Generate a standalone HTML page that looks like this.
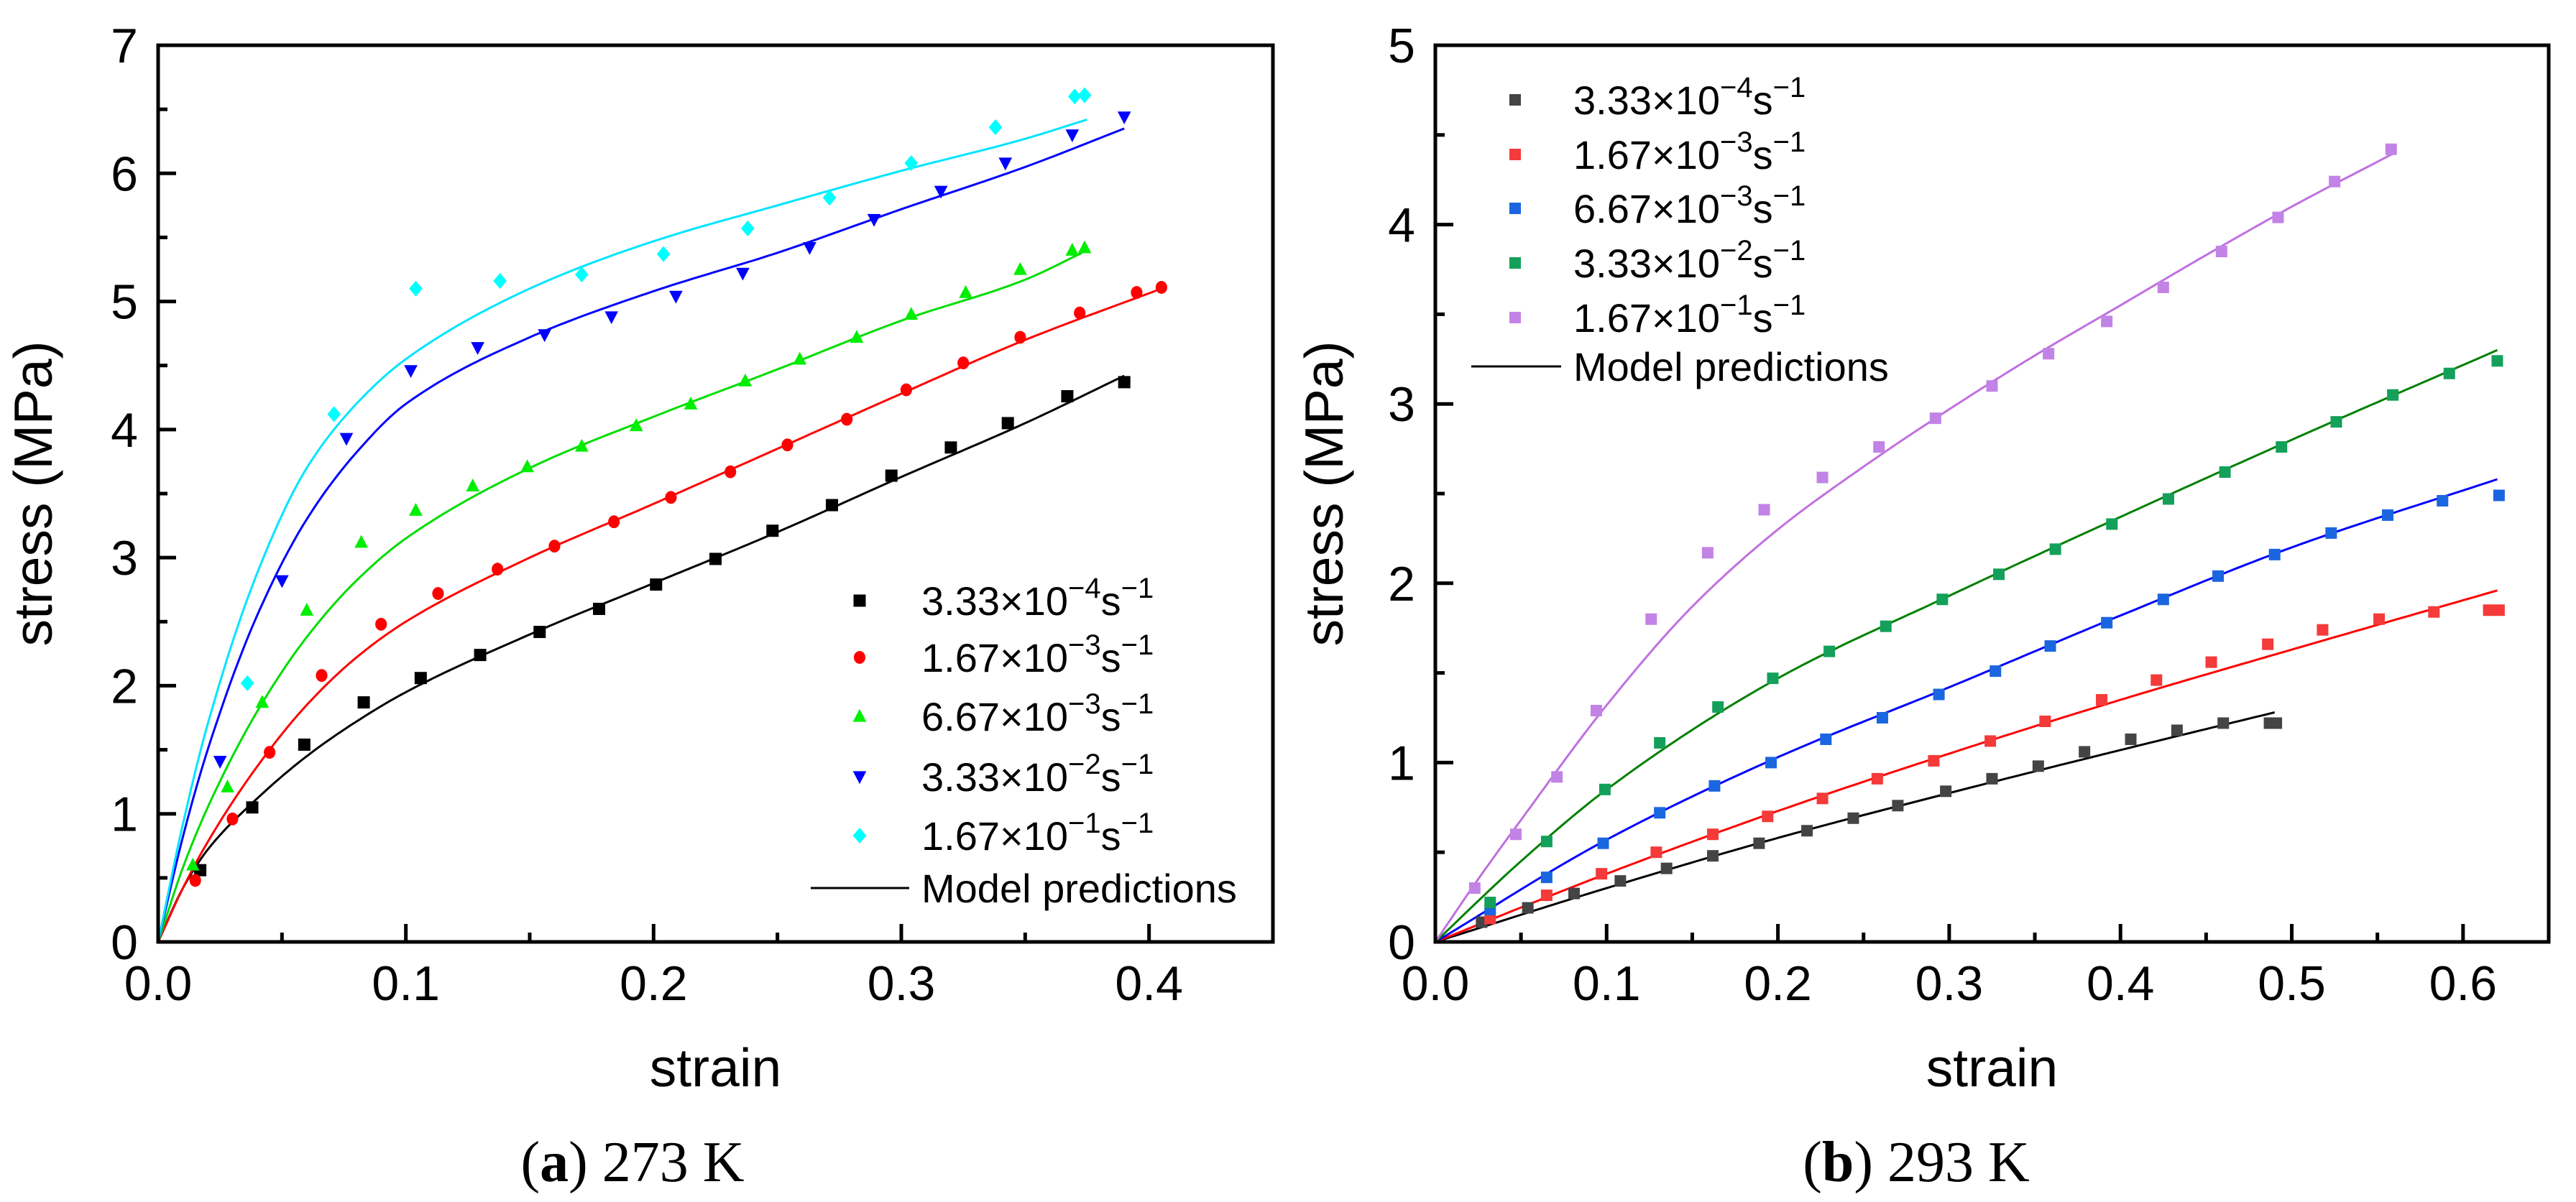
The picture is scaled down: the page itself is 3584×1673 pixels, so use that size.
<!DOCTYPE html>
<html><head><meta charset="utf-8"><style>
html,body{margin:0;padding:0;background:#fff}
svg{display:block}
text{font-family:"Liberation Sans",Arial,sans-serif;fill:#000}
.cap{font-family:"Liberation Serif","Times New Roman",serif}
</style></head><body>
<svg id="fig" width="3584" height="1673" viewBox="0 0 3584 1673" xmlns="http://www.w3.org/2000/svg">
<rect width="3584" height="1673" fill="#fff"/>
</svg>
<script>
// ---------- Panel (a) 273 K data ----------
const aLabels = ["3.33×10|−4","1.67×10|−3","6.67×10|−3","3.33×10|−2","1.67×10|−1"];
const aBlackX = [0.017,0.038,0.059,0.083,0.106,0.130,0.154,0.178,0.201,0.225,0.248,0.272,0.296,0.320,0.343,0.367,0.390];
const aBlackY = [0.56,1.05,1.54,1.87,2.06,2.24,2.42,2.60,2.79,2.99,3.21,3.41,3.64,3.86,4.05,4.26,4.37];
const aRedX = [0.015,0.030,0.045,0.066,0.090,0.113,0.137,0.160,0.184,0.207,0.231,0.254,0.278,0.302,0.325,0.348,0.372,0.395,0.405];
const aRedY = [0.48,0.96,1.48,2.08,2.48,2.72,2.91,3.09,3.28,3.47,3.67,3.88,4.08,4.31,4.52,4.72,4.91,5.07,5.11];
const aGreenX = [0.014,0.028,0.042,0.060,0.082,0.104,0.127,0.149,0.171,0.193,0.215,0.237,0.259,0.282,0.304,0.326,0.348,0.369,0.374];
const aGreenY = [0.60,1.21,1.87,2.59,3.12,3.37,3.56,3.71,3.87,4.03,4.20,4.38,4.55,4.72,4.90,5.07,5.25,5.40,5.42];
const aBlueX = [0.025,0.050,0.076,0.102,0.129,0.156,0.183,0.209,0.236,0.263,0.289,0.316,0.342,0.369,0.390];
const aBlueY = [1.41,2.82,3.93,4.46,4.64,4.74,4.88,5.04,5.22,5.42,5.64,5.86,6.08,6.30,6.44];
const aCyanX = [0.036,0.071,0.104,0.138,0.171,0.204,0.238,0.271,0.304,0.338,0.370,0.374];
const aCyanY = [2.02,4.12,5.10,5.16,5.21,5.37,5.57,5.81,6.08,6.36,6.60,6.61];
const aModelBlackX = [0,0.01,0.02,0.04,0.06,0.08,0.1,0.15,0.2,0.25,0.3,0.35,0.39];
const aModelBlackY = [0,0.42,0.72,1.12,1.45,1.72,1.95,2.4,2.8,3.2,3.63,4.05,4.42];
const aModelRedX = [0,0.01,0.02,0.04,0.06,0.08,0.1,0.15,0.2,0.25,0.3,0.35,0.405];
const aModelRedY = [0,0.42,0.78,1.37,1.85,2.22,2.5,3.0,3.42,3.85,4.28,4.7,5.1];
const aModelGreenX = [0,0.01,0.02,0.04,0.06,0.08,0.1,0.15,0.2,0.25,0.3,0.35,0.373];
const aModelGreenY = [0,0.58,1.05,1.8,2.38,2.82,3.15,3.7,4.1,4.47,4.85,5.17,5.38];
const aModelBlueX = [0,0.01,0.02,0.04,0.06,0.08,0.1,0.15,0.2,0.25,0.3,0.35,0.39];
const aModelBlueY = [0,0.82,1.5,2.55,3.3,3.82,4.2,4.72,5.08,5.38,5.72,6.05,6.35];
const aModelCyanX = [0,0.01,0.02,0.04,0.06,0.08,0.1,0.15,0.2,0.25,0.3,0.35,0.375];
const aModelCyanY = [0,0.92,1.7,2.88,3.7,4.2,4.55,5.1,5.47,5.75,6.02,6.27,6.42];
const aXTicks = ["0.0","0.1","0.2","0.3","0.4"];
const aYTicks = ["0","1","2","3","4","5","6","7"];

// ---------- Panel (b) 293 K data ----------
const bBlackX = [0.027,0.054,0.081,0.108,0.135,0.162,0.189,0.217,0.244,0.270,0.298,0.325,0.352,0.379,0.406,0.433,0.460,0.487,0.491];
const bBlackY = [0.11,0.19,0.27,0.34,0.41,0.48,0.55,0.62,0.69,0.76,0.84,0.91,0.98,1.06,1.13,1.18,1.22,1.22,1.22];
const bRedX = [0.032,0.065,0.097,0.129,0.162,0.194,0.226,0.258,0.291,0.324,0.356,0.389,0.421,0.453,0.486,0.518,0.551,0.583,0.615,0.621];
const bRedY = [0.13,0.26,0.38,0.50,0.60,0.70,0.80,0.91,1.01,1.12,1.23,1.35,1.46,1.56,1.66,1.74,1.80,1.84,1.85,1.85];
const bBlueX = [0.032,0.065,0.098,0.131,0.163,0.196,0.228,0.261,0.294,0.327,0.359,0.392,0.425,0.457,0.490,0.523,0.556,0.588,0.621];
const bBlueY = [0.18,0.36,0.55,0.72,0.87,1.00,1.13,1.25,1.38,1.51,1.65,1.78,1.91,2.04,2.16,2.28,2.38,2.46,2.49];
const bGreenX = [0.032,0.065,0.099,0.131,0.165,0.197,0.230,0.263,0.296,0.329,0.362,0.395,0.428,0.461,0.494,0.526,0.559,0.592,0.620];
const bGreenY = [0.22,0.56,0.85,1.11,1.31,1.47,1.62,1.76,1.91,2.05,2.19,2.33,2.47,2.62,2.76,2.90,3.05,3.17,3.24];
const bPurpleX = [0.023,0.047,0.071,0.094,0.126,0.159,0.192,0.226,0.259,0.292,0.325,0.358,0.392,0.425,0.459,0.492,0.525,0.558];
const bPurpleY = [0.30,0.60,0.92,1.29,1.80,2.17,2.41,2.59,2.76,2.92,3.10,3.28,3.46,3.65,3.85,4.04,4.24,4.42];
const bModelBlackX = [0,0.1,0.2,0.3,0.4,0.49];
const bModelBlackY = [0,0.3,0.58,0.83,1.07,1.28];
const bModelRedX = [0,0.1,0.2,0.3,0.4,0.5,0.62];
const bModelRedY = [0,0.38,0.73,1.05,1.35,1.63,1.96];
const bModelBlueX = [0,0.1,0.2,0.3,0.4,0.5,0.62];
const bModelBlueY = [0,0.57,1.03,1.42,1.82,2.2,2.58];
const bModelGreenX = [0,0.05,0.1,0.2,0.3,0.4,0.5,0.62];
const bModelGreenY = [0,0.45,0.85,1.47,1.93,2.37,2.8,3.3];
const bModelPurpleX = [0,0.025,0.05,0.1,0.15,0.2,0.25,0.3,0.35,0.4,0.45,0.5,0.56];
const bModelPurpleY = [0,0.35,0.68,1.32,1.87,2.3,2.65,2.97,3.27,3.55,3.83,4.1,4.4];
const bXTicks = ["0.0","0.1","0.2","0.3","0.4","0.5","0.6"];
const bYTicks = ["0","1","2","3","4","5"];

const NS = "http://www.w3.org/2000/svg";
const svg = document.getElementById("fig");
function mk(tag, attrs, parent){
  const e = document.createElementNS(NS, tag);
  for (const k in attrs) e.setAttribute(k, attrs[k]);
  (parent||svg).appendChild(e);
  return e;
}
// monotone cubic (Fritsch-Carlson) interpolation in data space
function monotone(xs, ys){
  const n=xs.length, d=[], m=new Array(n);
  for (let i=0;i<n-1;i++) d.push((ys[i+1]-ys[i])/(xs[i+1]-xs[i]));
  m[0]=d[0]; m[n-1]=d[n-2];
  for (let i=1;i<n-1;i++){
    if (d[i-1]*d[i]<=0) m[i]=0;
    else { const h0=xs[i]-xs[i-1], h1=xs[i+1]-xs[i];
      const w1=2*h1+h0, w2=h1+2*h0; m[i]=(w1+w2)/(w1/d[i-1]+w2/d[i]); }
  }
  return function(x){
    let i=0; while(i<n-2 && x>xs[i+1]) i++;
    const h=xs[i+1]-xs[i], t=(x-xs[i])/h, t2=t*t, t3=t2*t;
    return (2*t3-3*t2+1)*ys[i]+(t3-2*t2+t)*h*m[i]+(-2*t3+3*t2)*ys[i+1]+(t3-t2)*h*m[i+1];
  };
}
function marker(g, shape, cx, cy, color, s){
  let el;
  if (shape==="square") el = mk("rect",{x:cx-s,y:cy-s,width:2*s,height:2*s,fill:color},g);
  else if (shape==="circle") el = mk("ellipse",{cx:cx,cy:cy,rx:s*0.95,ry:s*1.05,fill:color},g);
  else if (shape==="up") el = mk("polygon",{points:`${cx},${cy-s*1.2} ${cx-s*1.1},${cy+s*0.9} ${cx+s*1.1},${cy+s*0.9}`,fill:color},g);
  else if (shape==="down") el = mk("polygon",{points:`${cx},${cy+s*1.2} ${cx-s*1.1},${cy-s*0.9} ${cx+s*1.1},${cy-s*0.9}`,fill:color},g);
  else el = mk("polygon",{points:`${cx},${cy-s*1.3} ${cx+s*1.1},${cy} ${cx},${cy+s*1.3} ${cx-s*1.1},${cy}`,fill:color},g);
  return el;
}

function panel(cfg){
  const g = mk("g",{});
  
  
  const L=cfg.L,R=cfg.R,T=63,B=1311;
  const sx = v => L + v/cfg.xmax*(R-L);
  const sy = v => B - v/cfg.ymax*(B-T);
  cfg.models.forEach((m,i)=>{
    const f = monotone(m.x, m.y);
    const x0=m.x[0], x1=m.x[m.x.length-1], N=200;
    let d="";
    for (let k=0;k<=N;k++){ const xv=x0+(x1-x0)*k/N; d+=(k?" L":"M")+sx(xv).toFixed(1)+","+sy(f(xv)).toFixed(1); }
    const p = mk("path",{d:d,fill:"none",stroke:m.color,"stroke-width":3,"stroke-linejoin":"round"},g);
    
    
  });
  cfg.series.forEach((s,i)=>{
    const sg = mk("g",{},g);
    
    
    s.x.forEach((v,j)=>{
      const m = marker(sg, s.shape, sx(v), sy(s.y[j]), s.color, cfg.ms);
      
      
    });
  });
  const fr = mk("rect",{x:L,y:T,width:R-L,height:B-T,fill:"none",stroke:"#000","stroke-width":5},g);
  
  
  const xa = mk("g",{},g);
  
  
  const nMinorX = Math.round(cfg.xmax/0.05);
  for (let i=0;i<=nMinorX;i++){
    const v=i*0.05, x=sx(v), major=i%2===0;
    mk("line",{x1:x,y1:B,x2:x,y2:B-(major?25:13),stroke:"#000","stroke-width":5},xa);
  }
  cfg.xt.forEach((t,i)=>{
    const tx = mk("text",{x:sx(i*0.1),y:1392,"font-size":68,"text-anchor":"middle"},xa);
    tx.textContent=t;
    
    
  });
  const ya = mk("g",{},g);
  
  
  for (let i=0;i<=cfg.ymax*2;i++){
    const y=sy(i*0.5), major=i%2===0;
    mk("line",{x1:L,y1:y,x2:L+(major?25:13),y2:y,stroke:"#000","stroke-width":5},ya);
  }
  cfg.yt.forEach((t,i)=>{
    const tx = mk("text",{x:L-28,y:sy(i)+24,"font-size":68,"text-anchor":"end"},ya);
    tx.textContent=t;
    
    
  });
  const xt = mk("text",{x:(L+R)/2,y:1512,"font-size":75,"text-anchor":"middle"},g);
  xt.textContent="strain";
  
  
  const yt = mk("text",{x:0,y:0,"font-size":75,"text-anchor":"middle",transform:`translate(${cfg.ytx},${(T+B)/2}) rotate(-90)`},g);
  yt.textContent="stress (MPa)";
  
  
  const lg = mk("g",{},g);
  
  
  cfg.series.forEach((s,i)=>{
    const y = cfg.legY[i];
    marker(lg, s.shape, cfg.legMX, y, s.color, cfg.ms);
    const parts = aLabels[i].split("|");
    const tx = mk("text",{x:cfg.legTX,y:y+20,"font-size":56},lg);
    
    
    const t1=mk("tspan",{},tx); t1.textContent=parts[0];
    const t2=mk("tspan",{dy:-24,"font-size":40},tx); t2.textContent=parts[1];
    const t3=mk("tspan",{dy:24},tx); t3.textContent="s";
    const t4=mk("tspan",{dy:-24,"font-size":40},tx); t4.textContent="−1";
  });
  const my = cfg.legY[5];
  mk("line",{x1:cfg.legL1,y1:my,x2:cfg.legL2,y2:my,stroke:"#000","stroke-width":3},lg);
  const mt = mk("text",{x:cfg.legTX,y:my+20,"font-size":56},lg);
  mt.textContent="Model predictions";
  
  
  const cap = mk("text",{x:cfg.capX,y:1644,"font-size":80,"text-anchor":"middle","class":"cap"},g);
  
  
  const c1=mk("tspan",{},cap); c1.textContent="(";
  const c2=mk("tspan",{"font-weight":"bold"},cap); c2.textContent=cfg.letter;
  const c3=mk("tspan",{},cap); c3.textContent=") "+cfg.temp;
}

panel({name:"panel-a-273k",L:220,R:1771,xmax:0.45,ymax:7,ms:8.5,xt:aXTicks,yt:aYTicks,ytx:72,
  series:[
    {x:aBlackX,y:aBlackY,color:"#000000",shape:"square"},
    {x:aRedX,y:aRedY,color:"#ff0000",shape:"circle"},
    {x:aGreenX,y:aGreenY,color:"#00ee00",shape:"up"},
    {x:aBlueX,y:aBlueY,color:"#0000ff",shape:"down"},
    {x:aCyanX,y:aCyanY,color:"#00ffff",shape:"diamond"}],
  models:[
    {x:aModelBlackX,y:aModelBlackY,color:"#000"},
    {x:aModelRedX,y:aModelRedY,color:"#ff0000"},
    {x:aModelGreenX,y:aModelGreenY,color:"#00dd00"},
    {x:aModelBlueX,y:aModelBlueY,color:"#0000ff"},
    {x:aModelCyanX,y:aModelCyanY,color:"#00e5ff"}],
  legY:[836,915,997,1081,1163,1236],legMX:1196,legTX:1282,legL1:1128,legL2:1265,
  capX:880,letter:"a",temp:"273 K"});

panel({name:"panel-b-293k",L:1997,R:3546,xmax:0.65,ymax:5,ms:8,xt:bXTicks,yt:bYTicks,ytx:1868,
  series:[
    {x:bBlackX,y:bBlackY,color:"#444444",shape:"square"},
    {x:bRedX,y:bRedY,color:"#f53a3a",shape:"square"},
    {x:bBlueX,y:bBlueY,color:"#1a66e0",shape:"square"},
    {x:bGreenX,y:bGreenY,color:"#14a05a",shape:"square"},
    {x:bPurpleX,y:bPurpleY,color:"#c283e6",shape:"square"}],
  models:[
    {x:bModelBlackX,y:bModelBlackY,color:"#000"},
    {x:bModelRedX,y:bModelRedY,color:"#ff0000"},
    {x:bModelBlueX,y:bModelBlueY,color:"#0000ff"},
    {x:bModelGreenX,y:bModelGreenY,color:"#008000"},
    {x:bModelPurpleX,y:bModelPurpleY,color:"#c070e0"}],
  legY:[139,215,290,366,442,510],legMX:2108,legTX:2189,legL1:2047,legL2:2172,
  capX:2666,letter:"b",temp:"293 K"});
</script>
</body></html>
